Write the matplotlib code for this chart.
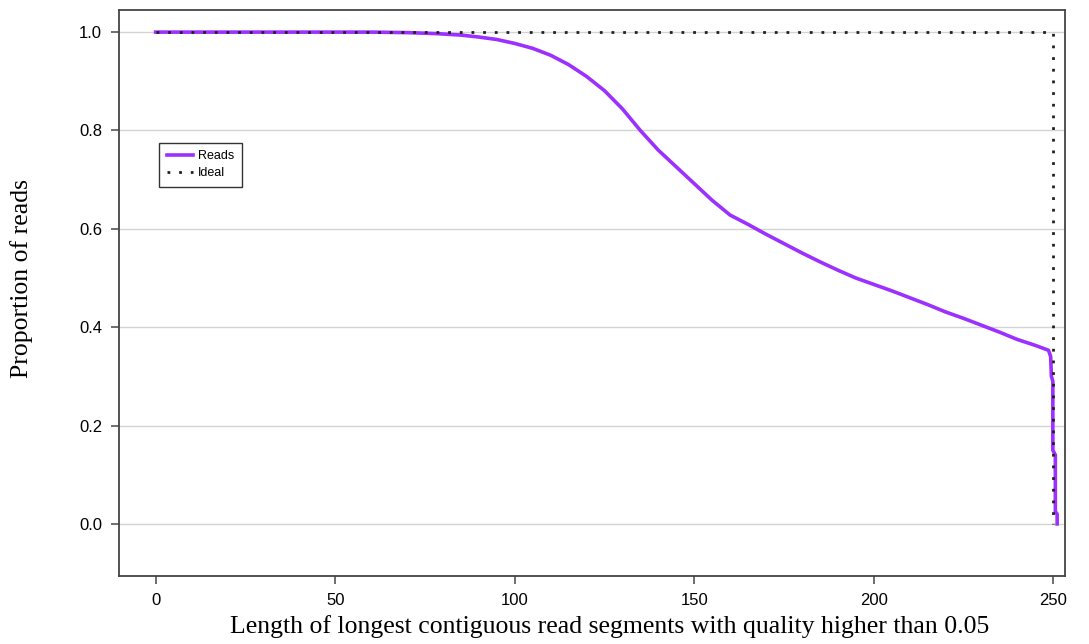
import matplotlib
matplotlib.use("Agg")
import matplotlib.pyplot as plt

# Reads curve (length, proportion)
read_len = [0, 60, 70, 78, 85, 90, 95, 100, 105, 110, 115, 120, 125, 130, 135,
            140, 145, 150, 155, 160, 165, 170, 175, 180, 185, 190, 195, 200,
            205, 210, 215, 220, 225, 230, 235, 240, 245, 248.7,
            249.3, 249.5, 249.9, 249.9, 250.6, 250.6, 251.1, 251.1]
read_prop = [1.0, 1.0, 0.999, 0.997, 0.994, 0.990, 0.985, 0.977, 0.967, 0.953, 0.934,
             0.910, 0.881, 0.844, 0.800, 0.760, 0.726, 0.692, 0.658, 0.628, 0.609,
             0.589, 0.570, 0.551, 0.533, 0.516, 0.500, 0.487, 0.474, 0.460, 0.446,
             0.431, 0.418, 0.404, 0.390, 0.375, 0.363, 0.353,
             0.340, 0.300, 0.290, 0.150, 0.140, 0.025, 0.020, 0.0]

# Ideal curve
ideal_len = [0, 250.0, 250.0]
ideal_prop = [1.0, 1.0, 0.0]

xticks = [0, 50, 100, 150, 200, 250]
yticks = [0.0, 0.2, 0.4, 0.6, 0.8, 1.0]

fig = plt.figure(figsize=(10.89, 6.44), dpi=100)
ax = fig.add_axes([0.109, 0.1056, 0.869, 0.8789])

ax.set_xlim(-10.3, 253.3)
ax.set_ylim(-0.106, 1.045)

for yv in yticks:
    ax.axhline(yv, color="#d3d3d3", lw=1.0, zorder=0)

ax.plot(read_len, read_prop, color="#9B30FF", lw=2.6, solid_joinstyle="round",
        label="Reads", zorder=2)
ax.plot(ideal_len, ideal_prop, color="#202020", lw=2.0, ls=(0, (1, 3.2)),
        label="Ideal", zorder=3)

ax.set_xticks(xticks)
ax.set_xticklabels([str(t) for t in xticks])
ax.set_yticks(yticks)
ax.set_yticklabels([f"{t:.1f}" for t in yticks])
ax.tick_params(direction="out", length=6, width=1.2, color="#555555",
               labelsize=12, pad=6)
for lab in ax.get_xticklabels() + ax.get_yticklabels():
    lab.set_fontfamily("Liberation Sans")

for sp in ax.spines.values():
    sp.set_color("#444444")
    sp.set_linewidth(1.3)

ax.set_xlabel("Length of longest contiguous read segments with quality higher than 0.05",
              fontfamily="Liberation Serif", fontsize=18.5, va="center", ha="center")
ax.xaxis.set_label_coords(0.519, -0.09)
ax.set_ylabel("Proportion of reads", fontfamily="Liberation Serif", fontsize=18.5,
              va="center", ha="center")
ax.yaxis.set_label_coords(-0.1025, 0.525)

leg = ax.legend(loc="upper left", bbox_to_anchor=(0.043, 0.765),
                prop={"family": "Liberation Sans", "size": 9},
                fancybox=False, framealpha=1, edgecolor="#333333",
                handlelength=2.1, borderpad=0.6, labelspacing=0.4, handletextpad=0.4,
                borderaxespad=0)
leg.get_frame().set_linewidth(1.0)

fig.savefig("out.png", dpi=100)
